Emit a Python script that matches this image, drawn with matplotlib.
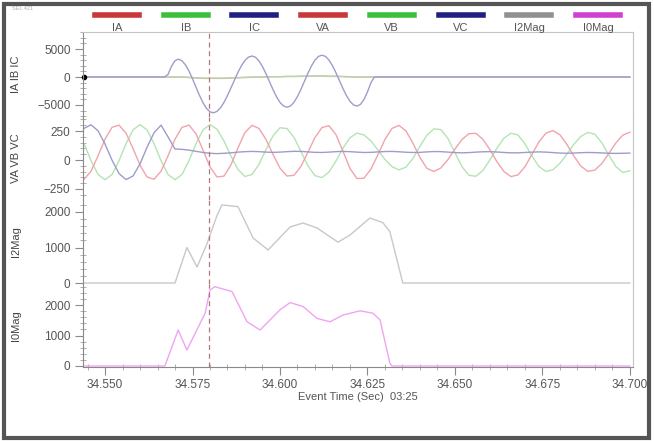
import numpy as np
import matplotlib.pyplot as plt
from matplotlib.ticker import MultipleLocator, FormatStrFormatter
from matplotlib.lines import Line2D
from matplotlib.patches import Rectangle

plt.rcParams['font.family'] = ['Liberation Sans', 'DejaVu Sans']

# voltages and small currents: one value every 2 ms starting at 34.544 s
t0, dt = 34.544, 0.002
# IC: one value every 1 ms starting at 34.544 s
dt_ic = 0.001

IA = [0] * 15 + [-100, -200, -250, -250, -250, -250, -200, -150, -100, -50, 0, 0, 50, 50,
                 100, 100, 150, 150, 200, 200, 150, 150, 100, 50, 0] + [0] * 39
IB = [0] * 15 + [-50, -150, -200, -200, -200, -200, -150, -100, -50, 0, 0, 50, 50, 50,
                 100, 100, 100, 150, 150, 150, 100, 100, 50, 0, 0] + [0] * 39
IC = [0] * 22 + [0, 0, 455, 1917, 2912, 3195, 2893, 2152, 1045, -323,
                 -1816, -3290, -4595, -5608, -6227, -6396, -6136, -5502, -4532, -3314,
                 -1934, -513, 852, 2040, 2965, 3547, 3750, 3526, 2876, 1865,
                 589, -825, -2239, -3515, -4526, -5176, -5400, -5172, -4512, -3484,
                 -2187, -750, 687, 1984, 3012, 3672, 3900, 3677, 3031, 2025,
                 756, -650, -2056, -3325, -4331, -4977, -5200, -4895, -4019, -2672,
                 -1014, 0, 0] + [0] * 72

VA = [-166, -97, 36, 180, 282, 301, 232, 99, -45, -146,
      -166, -97, 36, 180, 282, 301, 226, 86, -59, -146,
      -139, -41, 105, 237, 299, 272, 178, 49, -70, -138,
      -132, -55, 68, 194, 280, 296, 219, 76, -72, -160,
      -157, -79, 46, 177, 272, 299, 251, 145, 22, -72,
      -99, -68, 3, 94, 176, 227, 230, 179, 89, -14,
      -99, -143, -129, -59, 47, 155, 232, 254, 218, 135,
      34, -53, -98, -87, -30, 57, 147, 215, 240]
VB = [141, -6, -125, -170, -125, -6, 141, 260, 305, 260,
      141, -6, -125, -170, -125, -6, 141, 260, 305, 266,
      164, 33, -82, -142, -125, -38, 89, 208, 278, 272,
      196, 74, -50, -135, -152, -104, -9, 102, 192, 232,
      217, 164, 86, 5, -57, -85, -62, 14, 118, 214,
      269, 262, 186, 65, -56, -132, -140, -90, 0, 102,
      188, 231, 216, 141, 36, -56, -99, -84, -29, 51,
      136, 204, 238, 223, 148, 42, -56, -107, -93]
VC = [273, 304, 252, 137, -2, -117, -169, -138, -33, 109,
      235, 301, 200, 95, 92, 85, 75, 65, 58, 55,
      58, 62, 68, 72, 74, 72, 68, 66, 68, 72,
      75, 74, 70, 66, 65, 68, 72, 74, 72, 68,
      65, 66, 70, 73, 74, 71, 67, 65, 66, 70,
      73, 72, 68, 64, 62, 64, 68, 71, 72, 69,
      65, 62, 62, 65, 68, 70, 68, 64, 60, 58,
      60, 63, 65, 64, 61, 58, 57, 58, 60]

# magnitude traces
i2_t = [34.544, 34.5700, 34.5734, 34.5763, 34.5791, 34.5820, 34.5834, 34.5880, 34.5923,
        34.5966, 34.6029, 34.6066, 34.6106, 34.6166, 34.6200, 34.6257, 34.6294, 34.6314,
        34.6351, 34.700]
i2_v = [0, 0, 1000, 450, 1100, 1900, 2200, 2150, 1270,
        930, 1580, 1690, 1550, 1150, 1350, 1830, 1700, 1450,
        0, 0]
i0_t = [34.544, 34.5671, 34.5709, 34.5734, 34.5786, 34.5800, 34.5814, 34.5863, 34.5906,
        34.5943, 34.6000, 34.6029, 34.6066, 34.6106, 34.6143, 34.6180, 34.6229, 34.6266,
        34.6286, 34.6314, 34.6320, 34.700]
i0_v = [0, 0, 1180, 525, 1730, 2490, 2600, 2440, 1450,
        1180, 1840, 2080, 1950, 1560, 1450, 1670, 1810, 1730,
        1510, 100, 0, 0]

cursor_t = 34.5797
legend_names = ['IA', 'IB', 'IC', 'VA', 'VB', 'VC', 'I2Mag', 'I0Mag']
legend_colors = ['#c83838', '#3cc03c', '#202080', '#c83838', '#3cc03c', '#202080', '#909090', '#d040d0']

t = np.round(t0 + dt * np.arange(len(VA)), 4)
t_ic = np.round(t0 + dt_ic * np.arange(len(IC)), 4)

W, H = 654, 441
fig = plt.figure(figsize=(W / 100, H / 100), dpi=100)
fig.patches.append(Rectangle((4 / W, 3 / H), 645 / W, 434 / H, transform=fig.transFigure,
                             fill=False, lw=3, edgecolor='#555555'))
fig.text(12 / W, 1 - 9 / H, 'SEL 421', fontsize=4, color='#b0b0b0', va='center')

def rect(top, bottom):
    return [83 / W, 1 - bottom / H, 550 / W, (bottom - top) / H]

ax1 = fig.add_axes(rect(32, 117))
ax2 = fig.add_axes(rect(117, 200), sharex=ax1)
ax3 = fig.add_axes(rect(200, 284), sharex=ax1)
ax4 = fig.add_axes(rect(284, 367), sharex=ax1)
axes = [ax1, ax2, ax3, ax4]

ax1.plot(t, IA, color='#e0b8a0', lw=1)
ax1.plot(t, IB, color='#b8d4b0', lw=1)
ax1.plot(t_ic, IC, color='#a09ccc', lw=1)
ax1.plot(t[0], 0, 'o', color='k', ms=3, clip_on=False)

ax2.plot(t, VB, color='#b4e4b4', lw=1)
ax2.plot(t, VA, color='#f0a4ac', lw=1)
ax2.plot(t, VC, color='#a09cc8', lw=1)

ax3.plot(i2_t, i2_v, color='#c8c8c8', lw=1, clip_on=False)
ax4.plot(i0_t, i0_v, color='#f0a4f0', lw=1, clip_on=False)

ax1.set_ylim(-7143, 8036)
ax2.set_ylim(-345, 371)
ax3.set_ylim(-28, 2338)
ax4.set_ylim(-33, 2689)

ax1.yaxis.set_major_locator(MultipleLocator(5000))
ax1.yaxis.set_minor_locator(MultipleLocator(1000))
ax2.yaxis.set_major_locator(MultipleLocator(250))
ax2.yaxis.set_minor_locator(MultipleLocator(50))
for ax in (ax3, ax4):
    ax.yaxis.set_major_locator(MultipleLocator(1000))
    ax.yaxis.set_minor_locator(MultipleLocator(200))
ax3.set_yticks([0, 1000, 2000])
ax4.set_yticks([0, 1000, 2000])

ax1.set_xlim(34.5437, 34.7009)
ax4.xaxis.set_major_locator(MultipleLocator(0.025))
ax4.xaxis.set_minor_locator(MultipleLocator(0.005))
ax4.xaxis.set_major_formatter(FormatStrFormatter('%.3f'))

for ax, lab in zip(axes, ['IA IB IC', 'VA VB VC', 'I2Mag', 'I0Mag']):
    ax.axvline(cursor_t, color='#b07878', lw=0.9, ls=(0, (4, 3)))
    for s in ax.spines.values():
        s.set_color('#c4c4c4')
        s.set_linewidth(0.8)
    ax.spines['left'].set_color('#8a8a8a')
    if ax is not ax1:
        ax.spines['top'].set_visible(False)
    if ax is not ax4:
        ax.spines['bottom'].set_visible(False)
        ax.tick_params(axis='x', which='both', bottom=False, labelbottom=False)
    ax.tick_params(axis='y', which='major', direction='out', length=6, width=0.8,
                   color='#8a8a8a', labelsize=8.5, labelcolor='#555555', pad=3)
    ax.tick_params(axis='y', which='minor', direction='inout', length=4, width=0.6, color='#a0a0a0')
    ax.set_ylabel(lab, fontsize=8, color='#444444')
    ax.yaxis.set_label_coords(-62 / 550, 0.5)

ax4.spines['bottom'].set_color('#8a8a8a')
ax4.tick_params(axis='x', which='major', direction='out', length=6, width=0.8,
                color='#8a8a8a', labelsize=8.5, labelcolor='#555555', pad=3)
ax4.tick_params(axis='x', which='minor', direction='inout', length=4, width=0.6, color='#a0a0a0')
ax4.set_xlabel('Event Time (Sec)  03:25', fontsize=8, color='#555555', labelpad=0)

for i, (name, col) in enumerate(zip(legend_names, legend_colors)):
    cx = 117 + 68.7 * i
    fig.add_artist(Line2D([(cx - 22) / W, (cx + 22) / W], [1 - 15 / H] * 2,
                          lw=4, color=col, transform=fig.transFigure))
    fig.text(cx / W, 1 - 28 / H, name, ha='center', va='center', fontsize=8, color='#555555')

fig.savefig('out.png', dpi=100)
